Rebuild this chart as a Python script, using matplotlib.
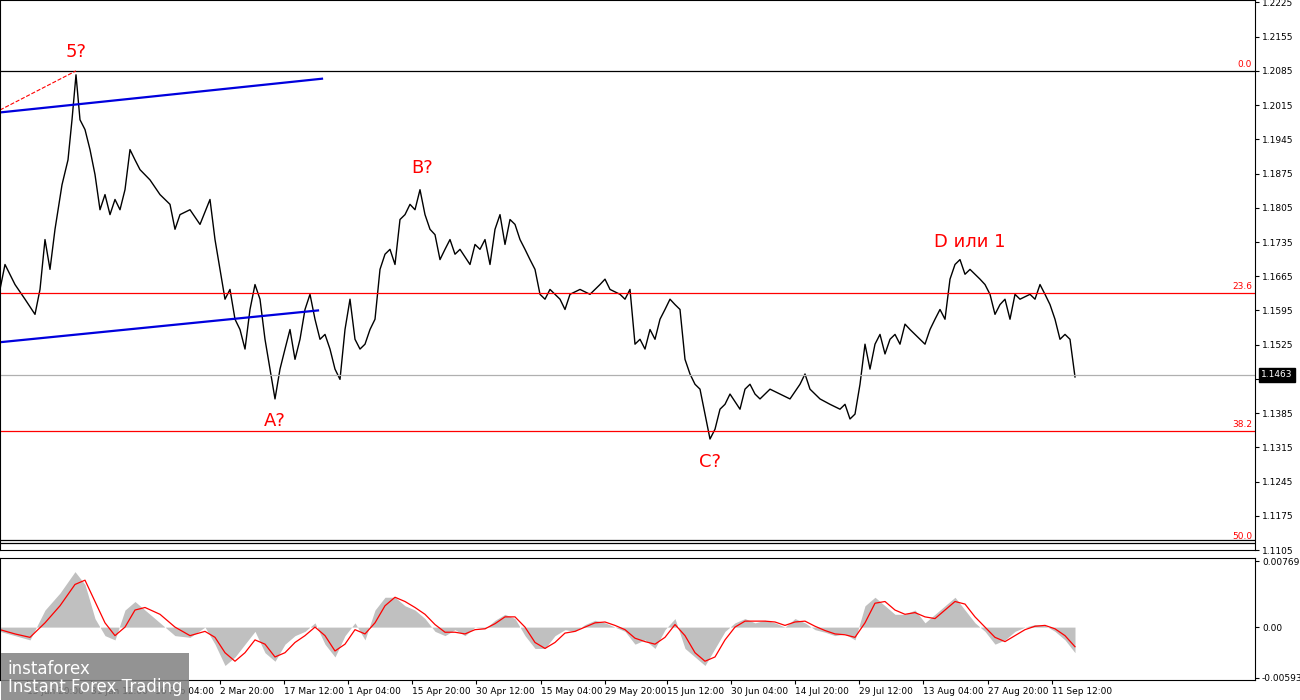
import matplotlib
matplotlib.use("Agg")
import matplotlib.pyplot as plt

bar_x = [0,5,15,25,35,40,45,50,55,62,68,72,76,80,85,90,95,100,105,110,115,120,125,130,135,140,150,160,170,175,180,190,200,210,215,220,225,230,235,240,245,250,255,260,265,270,275,280,285,290,295,300,305,310,315,320,325,330,335,340,345,350,355,360,365,370,375,380,385,390,395,400,405,410,415,420,425,430,435,440,445,450,455,460,470,475,480,485,490,495,500,505,510,515,520,525,530,535,540,545,550,560,565,570,580,590,600,605,610,620,625,630,635,640,645,650,655,660,665,670,675,680,685,690,695,700,705,710,715,720,725,730,740,745,750,755,760,770,780,790,800,805,810,815,820,830,840,845,850,855,860,865,870,875,880,885,890,895,900,905,910,920,925,930,935,940,945,950,955,960,965,970,980,985,990,995,1000,1005,1010,1015,1020,1030,1035,1040,1045,1050,1055,1060,1065,1070,1075]
close = [1.1638,1.1689,1.1648,1.1618,1.1587,1.1638,1.1740,1.1679,1.1761,1.1852,1.1903,1.1985,1.2077,1.1985,1.1965,1.1924,1.1873,1.1801,1.1832,1.1791,1.1822,1.1801,1.1842,1.1924,1.1903,1.1883,1.1862,1.1832,1.1812,1.1761,1.1791,1.1801,1.1771,1.1822,1.1740,1.1679,1.1618,1.1638,1.1577,1.1556,1.1516,1.1597,1.1648,1.1618,1.1536,1.1475,1.1414,1.1475,1.1516,1.1556,1.1495,1.1536,1.1597,1.1628,1.1577,1.1536,1.1546,1.1516,1.1475,1.1454,1.1556,1.1618,1.1536,1.1516,1.1526,1.1556,1.1577,1.1679,1.1710,1.1720,1.1689,1.1781,1.1791,1.1812,1.1801,1.1842,1.1791,1.1761,1.1750,1.1699,1.1720,1.1740,1.1710,1.1720,1.1689,1.1730,1.1720,1.1740,1.1689,1.1761,1.1791,1.1730,1.1781,1.1771,1.1740,1.1720,1.1699,1.1679,1.1628,1.1618,1.1638,1.1618,1.1597,1.1628,1.1638,1.1628,1.1648,1.1659,1.1638,1.1628,1.1618,1.1638,1.1526,1.1536,1.1516,1.1556,1.1536,1.1577,1.1597,1.1618,1.1607,1.1597,1.1495,1.1465,1.1444,1.1434,1.1383,1.1332,1.1352,1.1393,1.1403,1.1424,1.1393,1.1434,1.1444,1.1424,1.1414,1.1434,1.1424,1.1414,1.1444,1.1465,1.1434,1.1424,1.1414,1.1403,1.1393,1.1403,1.1373,1.1383,1.1444,1.1526,1.1475,1.1526,1.1546,1.1506,1.1536,1.1546,1.1526,1.1567,1.1556,1.1536,1.1526,1.1556,1.1577,1.1597,1.1577,1.1659,1.1689,1.1699,1.1669,1.1679,1.1659,1.1648,1.1628,1.1587,1.1607,1.1618,1.1577,1.1628,1.1618,1.1628,1.1618,1.1648,1.1628,1.1607,1.1577,1.1536,1.1546,1.1536,1.1459]

osc_x = [0,15,30,45,60,75,85,95,105,115,125,135,145,160,175,190,205,215,225,235,245,255,265,275,285,295,305,315,325,335,345,355,365,375,385,395,405,415,425,435,445,455,465,475,485,495,505,515,525,535,545,555,565,575,585,595,605,615,625,635,645,655,665,675,685,695,705,715,725,735,745,755,765,775,785,795,805,815,825,835,845,855,865,875,885,895,905,915,925,935,945,955,965,975,985,995,1005,1015,1025,1035,1045,1055,1065,1075]
hist = [-0.5,-1,-1.5,2,4,6.5,5,1,-1,-1.5,2,3,2,0.5,-1,-1.2,0,-2,-4.5,-3.5,-2,-0.5,-3,-4,-2,-1,-0.5,0.5,-2,-3.5,-1,0.5,-1.5,2,3.5,3.5,2.5,2,1,-0.5,-1,-0.3,-1,0,-0.2,0.8,1.5,1,-1,-2.5,-2.5,-1,-0.3,-0.5,0.3,0.8,0.5,0,-0.5,-2,-1.5,-2.5,-0.3,1,-2.5,-3.5,-4.5,-2.5,-0.5,0.5,1,0.5,0.8,0.5,0,1,0.5,-0.3,-0.6,-1,-0.8,-1.5,2.5,3.5,2.5,1.5,1.5,2,0.5,1.5,2.5,3.5,2,0.5,-0.5,-2,-1.5,-0.5,0,0.3,0.2,-0.5,-1.5,-3]
signal = [-0.3,-0.8,-1.2,0.5,2.5,5,5.5,3,0.5,-1,0,2,2.3,1.5,0,-1,-0.5,-1.2,-3,-4,-3,-1.5,-2,-3.5,-3,-1.8,-1,0,-1,-2.8,-2,-0.3,-0.8,0.5,2.5,3.5,3,2.3,1.5,0.3,-0.6,-0.6,-0.8,-0.3,-0.2,0.4,1.2,1.2,0,-1.8,-2.5,-1.8,-0.7,-0.5,0,0.5,0.6,0.2,-0.3,-1.3,-1.7,-2,-1.2,0.3,-1,-3,-4,-3.5,-1.5,0,0.7,0.7,0.7,0.6,0.2,0.6,0.7,0.1,-0.4,-0.8,-0.9,-1.2,0.5,2.8,3,2,1.5,1.7,1.2,1,2,3,2.7,1.2,0,-1.2,-1.7,-1,-0.3,0.1,0.2,-0.2,-1,-2.3]

tick_pos = [27,91,155,220,284,348,412,476,541,605,667,731,795,859,923,988,1052]
tick_lab = ["15 Jan 20:00","31 Jan 12:00","16 Feb 04:00","2 Mar 20:00","17 Mar 12:00","1 Apr 04:00","15 Apr 20:00","30 Apr 12:00","15 May 04:00","29 May 20:00","15 Jun 12:00","30 Jun 04:00","14 Jul 20:00","29 Jul 12:00","13 Aug 04:00","27 Aug 20:00","11 Sep 12:00"]
price_ticks = [1.2225,1.2155,1.2085,1.2015,1.1945,1.1875,1.1805,1.1735,1.1665,1.1595,1.1525,1.1455,1.1385,1.1315,1.1245,1.1175,1.1105]
fib_levels = [1.2085,1.1630,1.1348,1.1120]
fib_labels = ["0.0","23.6","38.2","50.0"]
last_price = 1.1463
waves = [(76,1.2124,"5?"),(275,1.1369,"A?"),(422,1.1887,"B?"),(710,1.1285,"C?"),(970,1.1736,"D или 1")]

fig = plt.figure(figsize=(13,7), dpi=100)
XMAX = 1255
ax = fig.add_axes([0, 150/700, XMAX/1300, 550/700])
ax2 = fig.add_axes([0, 20/700, XMAX/1300, 122/700])
for a in (ax, ax2):
    a.set_xlim(0, XMAX)
    a.yaxis.tick_right()
    for s in a.spines.values():
        s.set_color("black")
    a.tick_params(labelsize=6.5, length=3, pad=2, colors="black")
ax.set_ylim(1.2230-550*0.0002041, 1.2230)
ax.set_yticks(price_ticks)
ax.set_yticklabels([f"{p:.4f}" for p in price_ticks])
ax.set_xticks([])
ax.plot(bar_x, close, color="black", lw=1.0)
for lv, lb in zip(fib_levels, fib_labels):
    ax.axhline(lv, color="black" if lb in ("0.0","50.0") else "red", lw=0.9)
    ax.text(XMAX-3, lv+0.0004, lb, color="red", fontsize=6.5, ha="right", va="bottom")
ax.axhline(1.1125, color="black", lw=0.9)
ax.axhline(last_price, color="#b0b0b0", lw=0.9)
ax.text(XMAX+6, last_price, f"{last_price:.4f}", color="white", fontsize=6.5, va="center",
        bbox=dict(facecolor="black", edgecolor="black", pad=1.5), clip_on=False)
ax.plot([0,322],[1.2000,1.2069], color="#0000dd", lw=1.6)
ax.plot([0,318],[1.1530,1.1595], color="#0000dd", lw=1.6)
ax.plot([0,76],[1.2005,1.2085], color="red", lw=0.8, ls="--")
for x, y, t in waves:
    ax.text(x, y, t, color="red", fontsize=13, ha="center", va="center")

ax2.set_ylim(-6.2, 8.1)
ax2.fill_between(osc_x, 0, hist, color="#c0c0c0", lw=0)
ax2.plot(osc_x, signal, color="red", lw=0.9)
ax2.set_yticks([7.69, 0, -5.93])
ax2.set_yticklabels(["0.00769","0.00","-0.00593"])
ax2.set_xticks(tick_pos)
ax2.set_xticklabels(tick_lab, ha="left", fontsize=6.5)
fig.text(0.006, 0.012, "instaforex\nInstant Forex Trading", color="white", fontsize=12,
         linespacing=1.0,
         bbox=dict(facecolor="#808080", edgecolor="none", alpha=0.85, pad=5), zorder=10)
fig.savefig("out.png", dpi=100, facecolor="white")
